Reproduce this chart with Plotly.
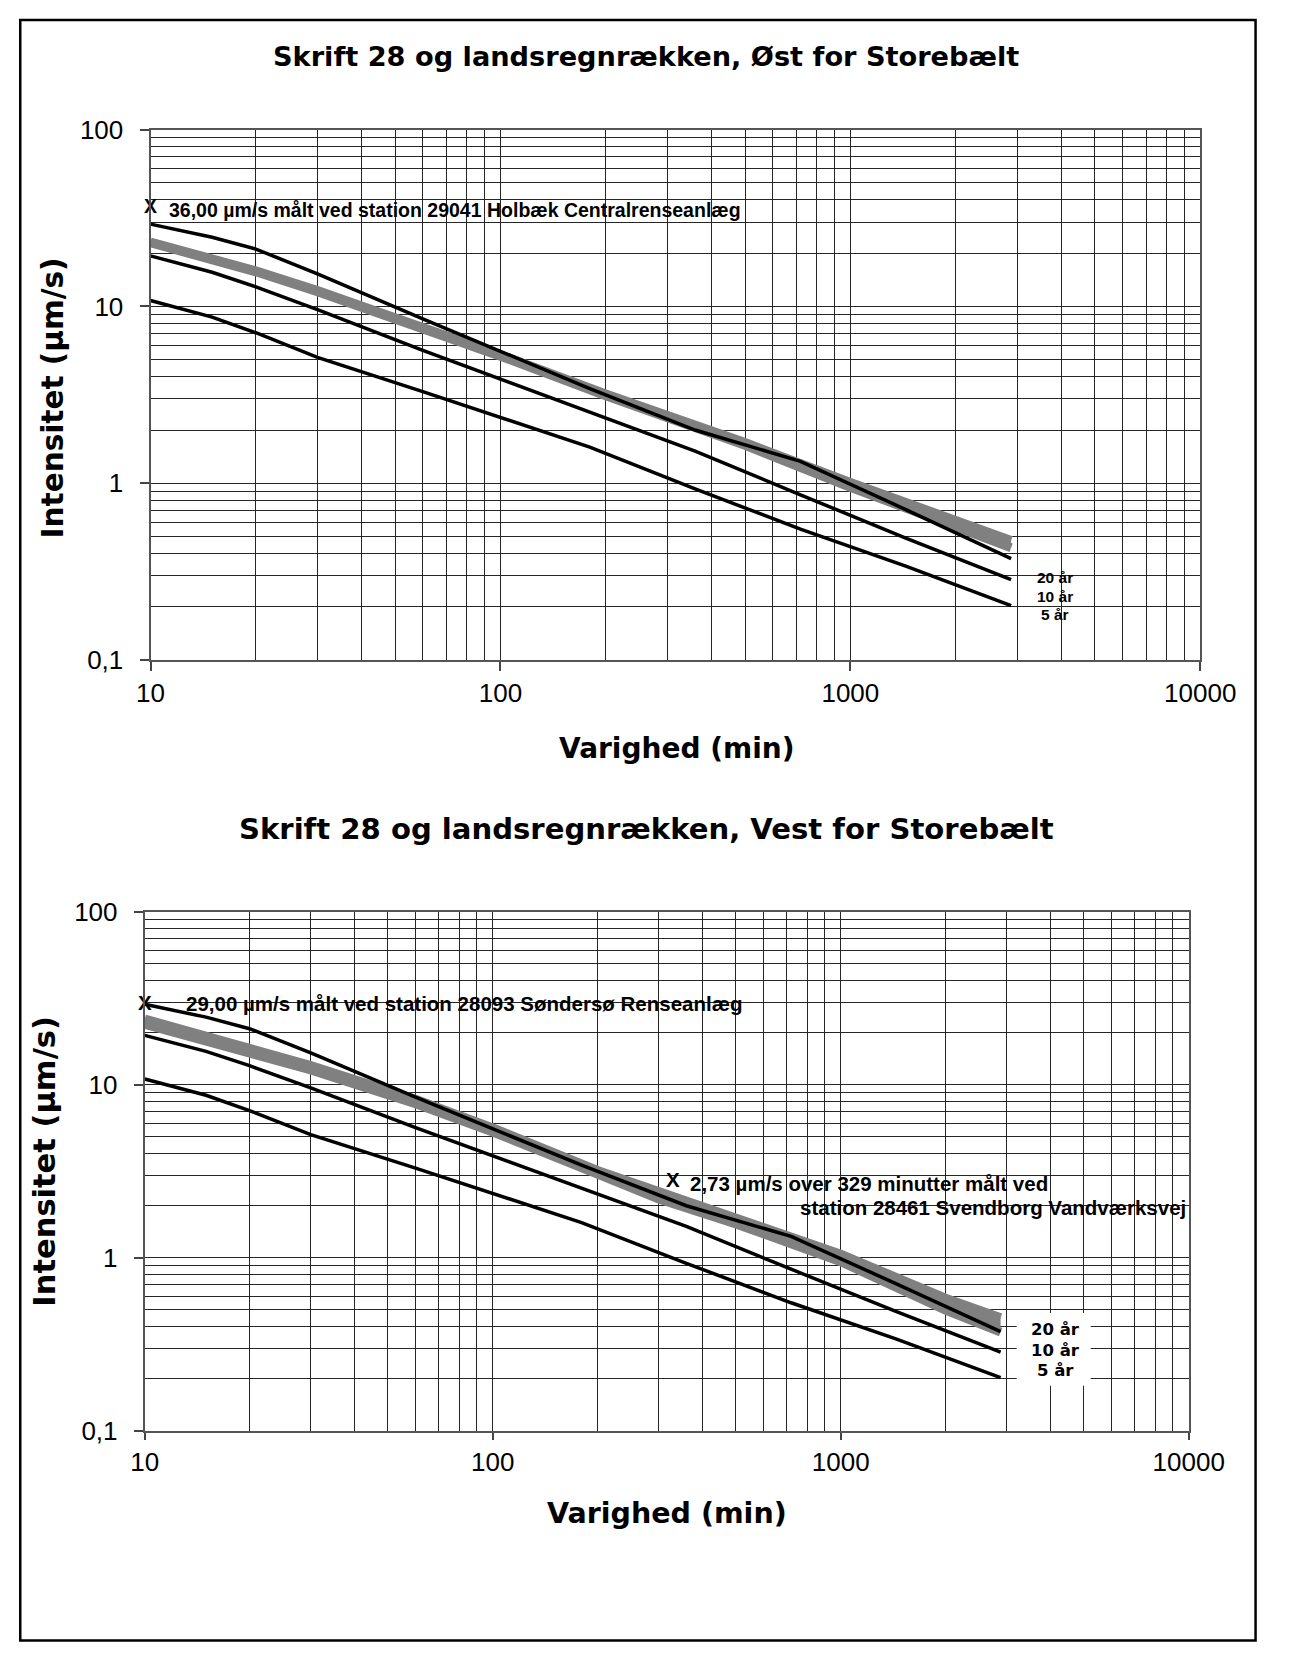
import plotly.graph_objects as go

# ---------------- data ----------------
durations = [10, 15, 20, 30, 60, 120, 180, 360, 720, 1440, 2880]
t5 = [10.8, 8.7, 7.1, 5.15, 3.3, 2.1, 1.6, 0.93, 0.55, 0.34, 0.203]
t10 = [19.3, 15.6, 12.9, 9.6, 5.65, 3.4, 2.5, 1.52, 0.86, 0.49, 0.285]
t20 = [29.2, 24.6, 21.1, 15.3, 8.5, 4.8, 3.43, 2.0, 1.33, 0.71, 0.375]

gray_durations = [10, 20, 30, 60, 100, 200, 300, 500, 1000, 2000, 2880]
east_upper = [23.1, 15.9, 12.3, 7.7, 5.33, 3.2, 2.41, 1.70, 1.01, 0.625, 0.475]
east_lower = [22.9, 15.7, 12.1, 7.58, 5.23, 3.12, 2.33, 1.64, 0.95, 0.575, 0.432]
west_upper = [24.0, 16.5, 12.9, 8.24, 5.64, 3.2, 2.41, 1.70, 1.05, 0.585, 0.451]
west_lower = [22.4, 15.5, 12.2, 7.78, 5.33, 3.05, 2.19, 1.57, 0.95, 0.499, 0.372]

east_obs_dur = [10]
east_obs_val = [36.0]
west_obs_dur = [10, 329]
west_obs_val = [29.0, 2.73]

x_ticks = [10, 100, 1000, 10000]
x_ticktext = ["10", "100", "1000", "10000"]
x_minor = [20, 30, 40, 50, 60, 70, 80, 90, 200, 300, 400, 500, 600, 700, 800, 900,
           2000, 3000, 4000, 5000, 6000, 7000, 8000, 9000]
y_ticks = [0.1, 1, 10, 100]
y_ticktext = ["0,1", "1", "10", "100"]
y_minor = [0.2, 0.3, 0.4, 0.5, 0.6, 0.7, 0.8, 0.9, 2, 3, 4, 5, 6, 7, 8, 9,
           20, 30, 40, 50, 60, 70, 80, 90]

title_top = "Skrift 28 og landsregnrækken, Øst for Storebælt"
title_bot = "Skrift 28 og landsregnrækken, Vest for Storebælt"
x_title = "Varighed (min)"
y_title = "Intensitet (µm/s)"
note_east = "36,00 µm/s målt ved station 29041 Holbæk Centralrenseanlæg"
note_west1 = "29,00 µm/s målt ved station 28093 Søndersø Renseanlæg"
note_west2 = "2,73 µm/s over 329 minutter målt ved"
note_west3 = "station 28461 Svendborg Vandværksvej"
period_labels = ["20 år", "10 år", "5 år"]

# ---------------- layout helpers ----------------
W, H = 1293, 1657
def fx(px):
    return px / W
def fy(py):
    return 1 - py / H

GRAY = "#808080"
GRID = "#262626"
SANS = "Liberation Sans, Arial, sans-serif"
VERD = "DejaVu Sans, Verdana, sans-serif"

fig = go.Figure()

def add_panel(xa, ya, upper, lower):
    fig.add_trace(go.Scatter(x=gray_durations, y=upper, xaxis=xa, yaxis=ya, mode="lines",
                             line=dict(color=GRAY, width=9), showlegend=False, hoverinfo="skip"))
    fig.add_trace(go.Scatter(x=gray_durations, y=lower, xaxis=xa, yaxis=ya, mode="lines",
                             line=dict(color=GRAY, width=9), fill="tonexty", fillcolor=GRAY,
                             showlegend=False, hoverinfo="skip"))
    for series in (t5, t10, t20):
        fig.add_trace(go.Scatter(x=durations, y=series, xaxis=xa, yaxis=ya, mode="lines",
                                 line=dict(color="black", width=3.5), showlegend=False,
                                 hoverinfo="skip"))

add_panel("x", "y", east_upper, east_lower)
add_panel("x2", "y2", west_upper, west_lower)

fig.add_trace(go.Scatter(x=east_obs_dur, y=east_obs_val, xaxis="x", yaxis="y", mode="text",
                         text=["X"] * len(east_obs_dur), cliponaxis=False,
                         textfont=dict(family=SANS, size=19.5, color="black", weight="bold"),
                         showlegend=False, hoverinfo="skip"))
fig.add_trace(go.Scatter(x=west_obs_dur, y=west_obs_val, xaxis="x2", yaxis="y2", mode="text",
                         text=["X"] * len(west_obs_dur), cliponaxis=False,
                         textfont=dict(family=SANS, size=20.5, color="black", weight="bold"),
                         showlegend=False, hoverinfo="skip"))

def xaxis_cfg(domain, anchor, ticklen):
    return dict(type="log", range=[1, 4], domain=domain, anchor=anchor, tickvals=x_ticks,
                ticktext=x_ticktext, ticks="outside", ticklen=ticklen, tickcolor="#444",
                tickwidth=1.5, showgrid=True, gridcolor=GRID, gridwidth=1.3,
                minor=dict(tickvals=x_minor, showgrid=True, gridcolor=GRID, gridwidth=1.3, ticks=""),
                showline=True, linecolor="#555", linewidth=2, mirror=True,
                tickfont=dict(family=SANS, size=26, color="black"), zeroline=False, fixedrange=True)

def yaxis_cfg(domain, anchor):
    return dict(type="log", range=[-1, 2], domain=domain, anchor=anchor, tickvals=y_ticks,
                ticktext=y_ticktext, ticks="outside", ticklen=9, tickcolor="#444", tickwidth=1.5,
                showgrid=True, gridcolor=GRID, gridwidth=1.3,
                minor=dict(tickvals=y_minor, showgrid=True, gridcolor=GRID, gridwidth=1.3, ticks=""),
                showline=True, linecolor="#555", linewidth=2, mirror=True,
                ticklabelstandoff=11,
                tickfont=dict(family=SANS, size=26, color="black"), zeroline=False, fixedrange=True)

annotations = []
def note(text, px, py, size, family, xanchor="center", yanchor="middle", angle=0):
    annotations.append(dict(text=text, xref="paper", yref="paper", x=fx(px), y=fy(py),
                            xanchor=xanchor, yanchor=yanchor, showarrow=False, textangle=angle,
                            font=dict(family=family, size=size, color="black", weight="bold")))

note(title_top, 657, 42, 27.2, VERD)
note(title_bot, 658, 829, 29.1, VERD)
note(x_title, 690, 747, 28, VERD)
note(x_title, 679, 1526, 28.5, VERD)
note(y_title, 40, 390, 29.5, VERD, angle=-90)
note(y_title, 32, 1167, 30.5, VERD, angle=-90)
note(note_east, 159, 199, 19.5, SANS, xanchor="left")
note(note_west1, 177, 1007, 20.5, SANS, xanchor="left")
note(note_west2, 701, 1190, 20.5, SANS, xanchor="left")
note(note_west3, 816, 1214, 20.5, SANS, xanchor="left")
for lab, py in zip(period_labels, [572.7, 592.3, 610.5]):
    note(lab, 1083, py, 15.5, SANS)
for lab, py in zip(period_labels, [1339, 1360, 1381]):
    note(lab, 1083, py, 16.5, VERD)

shapes = [
    dict(type="rect", xref="paper", yref="paper", x0=fx(1043), x1=fx(1120), y0=fy(1396), y1=fy(1322),
         fillcolor="white", line=dict(width=0), layer="above"),
    dict(type="rect", xref="paper", yref="paper", x0=fx(6.5), x1=fx(1291.5), y0=fy(1655.5), y1=fy(5),
         fillcolor="rgba(0,0,0,0)", line=dict(color="black", width=2.5), layer="above"),
]

fig.update_layout(
    width=W, height=H, margin=dict(l=0, r=0, t=0, b=0),
    paper_bgcolor="white", plot_bgcolor="white", showlegend=False,
    xaxis=xaxis_cfg([fx(142), fx(1234)], "y", 9),
    yaxis=yaxis_cfg([fy(657), fy(116.7)], "x"),
    xaxis2=xaxis_cfg([fx(136), fx(1222)], "y2", 7),
    yaxis2=yaxis_cfg([fy(1442), fy(913.3)], "x2"),
    annotations=annotations, shapes=shapes,
)

fig.write_html(
    "out.html",
    config={"displayModeBar": False},
    post_script="document.body.style.margin='0';document.body.style.overflow='hidden';",
)
